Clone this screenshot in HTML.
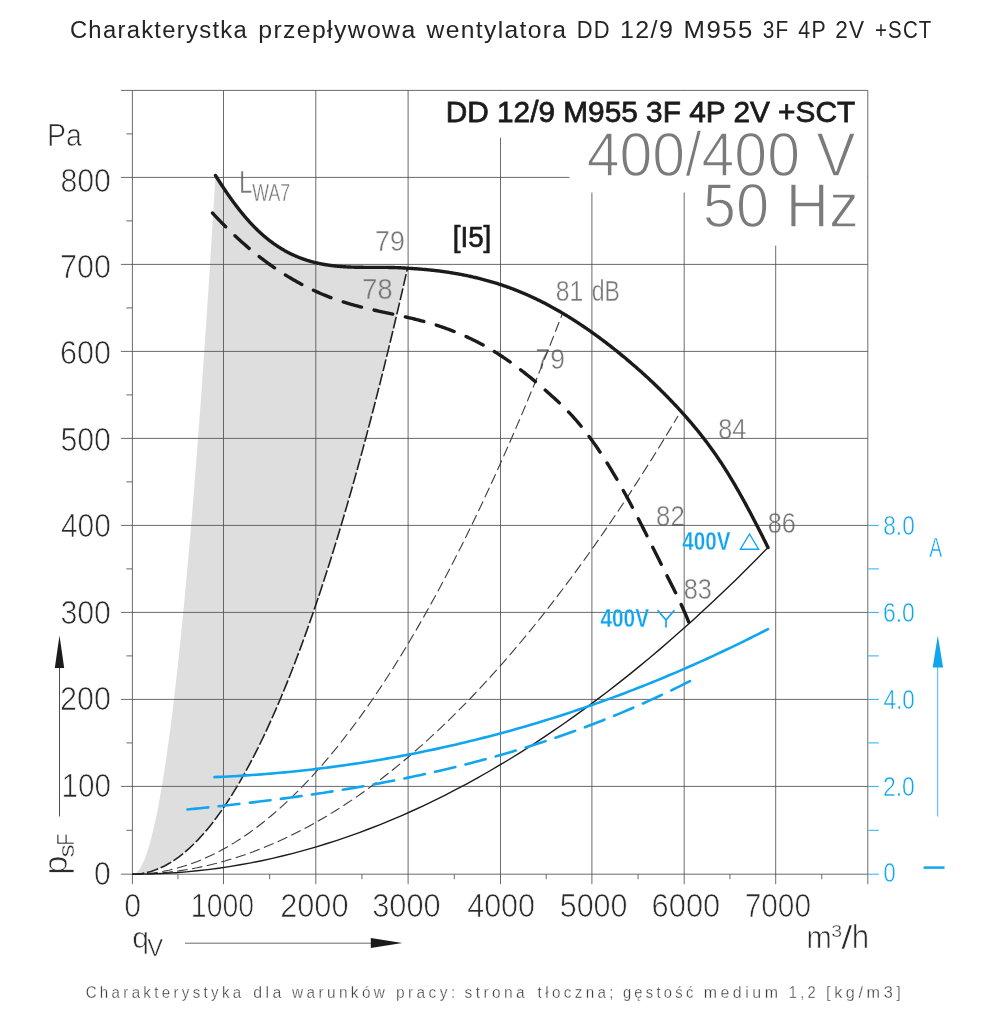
<!DOCTYPE html>
<html lang="pl"><head><meta charset="utf-8"><title>Charakterystyka wentylatora</title>
<style>html,body{margin:0;padding:0;background:#fff;overflow:hidden}svg{display:block;will-change:transform}text{font-family:"Liberation Sans",sans-serif}</style></head>
<body>
<svg width="1000" height="1028" viewBox="0 0 1000 1028">
<rect width="1000" height="1028" fill="#fff"/>
<path d="M132.4 874.2 L133.81 874 L135.22 873.4 L136.63 872.39 L138.03 870.99 L139.44 869.18 L140.85 866.97 L142.26 864.36 L143.67 861.35 L145.08 857.94 L146.48 854.13 L147.89 849.91 L149.3 845.3 L150.71 840.28 L152.12 834.86 L153.53 829.04 L154.94 822.82 L156.34 816.19 L157.75 809.17 L159.16 801.74 L160.57 793.91 L161.98 785.68 L163.39 777.05 L164.79 768.02 L166.2 758.59 L167.61 748.75 L169.02 738.51 L170.43 727.88 L171.84 716.84 L173.25 705.4 L174.65 693.55 L176.06 681.31 L177.47 668.66 L178.88 655.62 L180.29 642.17 L181.7 628.32 L183.11 614.07 L184.51 599.42 L185.92 584.36 L187.33 568.91 L188.74 553.05 L190.15 536.79 L191.56 520.13 L192.96 503.07 L194.37 485.61 L195.78 467.75 L197.19 449.48 L198.6 430.81 L200.01 411.75 L201.42 392.28 L202.82 372.4 L204.23 352.13 L205.64 331.46 L207.05 310.38 L208.46 288.91 L209.87 267.03 L211.27 244.75 L212.68 222.07 L214.09 198.98 L215.5 175.5 L215.5 175.48 L215.98 176.24 L216.46 177.01 L216.94 177.77 L217.42 178.53 L217.91 179.28 L218.39 180.04 L218.87 180.79 L219.35 181.53 L219.83 182.28 L220.31 183.02 L220.79 183.76 L221.27 184.49 L221.76 185.23 L222.24 185.96 L222.72 186.68 L223.2 187.41 L223.68 188.13 L224.16 188.85 L224.64 189.56 L225.12 190.27 L225.61 190.98 L226.09 191.69 L226.57 192.39 L227.05 193.09 L227.53 193.78 L228.01 194.48 L228.49 195.17 L228.97 195.85 L229.45 196.54 L229.94 197.22 L230.42 197.89 L230.9 198.57 L231.38 199.24 L231.86 199.91 L232.34 200.57 L232.82 201.23 L233.3 201.89 L233.79 202.54 L234.27 203.19 L234.75 203.83 L235.23 204.48 L235.71 205.12 L236.19 205.75 L236.67 206.39 L237.15 207.01 L237.64 207.64 L238.12 208.26 L238.6 208.88 L239.08 209.49 L239.56 210.1 L240.04 210.71 L240.52 211.31 L241 211.91 L241.48 212.51 L241.97 213.1 L242.45 213.69 L242.93 214.28 L243.41 214.86 L243.89 215.43 L244.37 216.01 L244.85 216.58 L245.33 217.14 L245.82 217.7 L246.3 218.26 L246.78 218.81 L247.26 219.36 L247.74 219.91 L248.22 220.45 L248.7 220.99 L249.18 221.52 L249.67 222.05 L250.15 222.58 L250.63 223.1 L251.11 223.62 L251.59 224.13 L252.07 224.64 L252.55 225.14 L253.03 225.64 L253.52 226.14 L254 226.63 L254.48 227.12 L254.96 227.61 L255.44 228.09 L255.92 228.57 L256.4 229.04 L256.88 229.51 L257.36 229.98 L257.85 230.44 L258.33 230.9 L258.81 231.35 L259.29 231.8 L259.77 232.25 L260.25 232.69 L260.73 233.13 L261.21 233.56 L261.7 234 L262.18 234.42 L262.66 234.85 L263.14 235.27 L263.62 235.68 L264.1 236.1 L264.58 236.51 L265.06 236.91 L265.55 237.32 L266.03 237.72 L266.51 238.11 L266.99 238.5 L267.47 238.89 L267.95 239.28 L268.43 239.66 L268.91 240.03 L269.39 240.41 L269.88 240.78 L270.36 241.15 L270.84 241.51 L271.32 241.87 L271.8 242.23 L272.28 242.58 L272.76 242.93 L273.24 243.28 L273.73 243.62 L274.21 243.96 L274.69 244.3 L275.17 244.64 L275.65 244.97 L276.13 245.29 L276.61 245.62 L277.09 245.94 L277.58 246.26 L278.06 246.57 L278.54 246.88 L279.02 247.19 L279.5 247.5 L279.98 247.8 L280.46 248.1 L280.94 248.4 L281.42 248.69 L281.91 248.98 L282.39 249.27 L282.87 249.55 L283.35 249.83 L283.83 250.11 L284.31 250.38 L284.79 250.66 L285.27 250.92 L285.76 251.19 L286.24 251.45 L286.72 251.71 L287.2 251.97 L287.68 252.23 L288.16 252.48 L288.64 252.73 L289.12 252.97 L289.61 253.22 L290.09 253.46 L290.57 253.7 L291.05 253.93 L291.53 254.16 L292.01 254.39 L292.49 254.62 L292.97 254.85 L293.45 255.07 L293.94 255.29 L294.42 255.5 L294.9 255.72 L295.38 255.93 L295.86 256.14 L296.34 256.34 L296.82 256.55 L297.3 256.75 L297.79 256.95 L298.27 257.14 L298.75 257.34 L299.23 257.53 L299.71 257.72 L300.19 257.9 L300.67 258.09 L301.15 258.27 L301.64 258.45 L302.12 258.62 L302.6 258.8 L303.08 258.97 L303.56 259.14 L304.04 259.31 L304.52 259.47 L305 259.64 L305.48 259.8 L305.97 259.96 L306.45 260.11 L306.93 260.27 L307.41 260.42 L307.89 260.57 L308.37 260.71 L308.85 260.86 L309.33 261 L309.82 261.14 L310.3 261.28 L310.78 261.42 L311.26 261.55 L311.74 261.69 L312.22 261.82 L312.7 261.95 L313.18 262.07 L313.67 262.2 L314.15 262.32 L314.63 262.44 L315.11 262.56 L315.59 262.68 L316.07 262.79 L316.55 262.9 L317.03 263.01 L317.52 263.12 L318 263.23 L318.48 263.34 L318.96 263.44 L319.44 263.54 L319.92 263.64 L320.4 263.74 L320.88 263.84 L321.36 263.93 L321.85 264.03 L322.33 264.12 L322.81 264.21 L323.29 264.29 L323.77 264.38 L324.25 264.47 L324.73 264.55 L325.21 264.63 L325.7 264.71 L326.18 264.79 L326.66 264.87 L327.14 264.94 L327.62 265.01 L328.1 265.09 L328.58 265.16 L329.06 265.23 L329.55 265.29 L330.03 265.36 L330.51 265.43 L330.99 265.49 L331.47 265.55 L331.95 265.61 L332.43 265.67 L332.91 265.73 L333.39 265.78 L333.88 265.84 L334.36 265.89 L334.84 265.95 L335.32 266 L335.8 266.05 L336.28 266.1 L336.76 266.14 L337.24 266.19 L337.73 266.24 L338.21 266.28 L338.69 266.32 L339.17 266.36 L339.65 266.4 L340.13 266.44 L340.61 266.48 L341.09 266.52 L341.58 266.56 L342.06 266.59 L342.54 266.62 L343.02 266.66 L343.5 266.69 L343.98 266.72 L344.46 266.75 L344.94 266.78 L345.42 266.81 L345.91 266.83 L346.39 266.86 L346.87 266.89 L347.35 266.91 L347.83 266.93 L348.31 266.96 L348.79 266.98 L349.27 267 L349.76 267.02 L350.24 267.04 L350.72 267.06 L351.2 267.08 L351.68 267.09 L352.16 267.11 L352.64 267.12 L353.12 267.14 L353.61 267.15 L354.09 267.17 L354.57 267.18 L355.05 267.19 L355.53 267.2 L356.01 267.22 L356.49 267.23 L356.97 267.24 L357.45 267.25 L357.94 267.26 L358.42 267.26 L358.9 267.27 L359.38 267.28 L359.86 267.29 L360.34 267.29 L360.82 267.3 L361.3 267.3 L361.79 267.31 L362.27 267.31 L362.75 267.32 L363.23 267.32 L363.71 267.33 L364.19 267.33 L364.67 267.33 L365.15 267.34 L365.64 267.34 L366.12 267.34 L366.6 267.34 L367.08 267.34 L367.56 267.34 L368.04 267.35 L368.52 267.35 L369 267.35 L369.48 267.35 L369.97 267.35 L370.45 267.35 L370.93 267.35 L371.41 267.35 L371.89 267.35 L372.37 267.35 L372.85 267.35 L373.33 267.35 L373.82 267.35 L374.3 267.35 L374.78 267.35 L375.26 267.35 L375.74 267.35 L376.22 267.35 L376.7 267.35 L377.18 267.35 L377.67 267.35 L378.15 267.35 L378.63 267.35 L379.11 267.35 L379.59 267.36 L380.07 267.36 L380.55 267.36 L381.03 267.36 L381.52 267.36 L382 267.36 L382.48 267.37 L382.96 267.37 L383.44 267.37 L383.92 267.38 L384.4 267.38 L384.88 267.38 L385.36 267.39 L385.85 267.39 L386.33 267.4 L386.81 267.4 L387.29 267.41 L387.77 267.42 L388.25 267.42 L388.73 267.43 L389.21 267.44 L389.7 267.45 L390.18 267.46 L390.66 267.46 L391.14 267.47 L391.62 267.49 L392.1 267.5 L392.58 267.51 L393.06 267.52 L393.55 267.53 L394.03 267.55 L394.51 267.56 L394.99 267.58 L395.47 267.59 L395.95 267.61 L396.43 267.62 L396.91 267.64 L397.39 267.66 L397.88 267.68 L398.36 267.7 L398.84 267.72 L399.32 267.74 L399.8 267.77 L400.28 267.79 L400.76 267.81 L401.24 267.84 L401.73 267.87 L402.21 267.89 L402.69 267.92 L403.17 267.95 L403.65 267.98 L404.13 268.01 L404.61 268.04 L405.09 268.07 L405.58 268.11 L406.06 268.14 L406.54 268.18 L407.02 268.22 L407.5 268.25 L407.5 268.25 L407.5 268.25 L402.84 288.62 L398.17 308.64 L393.51 328.31 L388.85 347.63 L384.19 366.6 L379.52 385.23 L374.86 403.51 L370.2 421.43 L365.54 439.02 L360.87 456.25 L356.21 473.13 L351.55 489.67 L346.88 505.86 L342.22 521.7 L337.56 537.19 L332.9 552.34 L328.23 567.13 L323.57 581.58 L318.91 595.68 L314.25 609.43 L309.58 622.84 L304.92 635.89 L300.26 648.6 L295.59 660.96 L290.93 672.97 L286.27 684.63 L281.61 695.95 L276.94 706.92 L272.28 717.53 L267.62 727.8 L262.96 737.73 L258.29 747.3 L253.63 756.53 L248.97 765.4 L244.31 773.93 L239.64 782.12 L234.98 789.95 L230.32 797.43 L225.65 804.57 L220.99 811.36 L216.33 817.8 L211.67 823.89 L207 829.64 L202.34 835.03 L197.68 840.08 L193.02 844.78 L188.35 849.13 L183.69 853.14 L179.03 856.79 L174.36 860.1 L169.7 863.06 L165.04 865.67 L160.38 867.93 L155.71 869.85 L151.05 871.41 L146.39 872.63 L141.73 873.5 L137.06 874.03 L132.4 874.2Z" fill="#dedede"/>
<g font-family="Liberation Sans, sans-serif">
<text transform="translate(375.07 251.18) scale(0.8934 1)" font-size="29.87" fill="#787878"  stroke="#fff" stroke-width="0.35" vector-effect="non-scaling-stroke" stroke-linejoin="round">79</text>
<text transform="translate(362.3 299.21) scale(0.9097 1)" font-size="29.87" fill="#787878"  stroke="#dedede" stroke-width="0.35" vector-effect="non-scaling-stroke" stroke-linejoin="round">78</text>
<text transform="translate(555.85 300.71) scale(0.8285 1)" font-size="29.87" fill="#787878"  stroke="#fff" stroke-width="0.35" vector-effect="non-scaling-stroke" stroke-linejoin="round">81</text>
<text transform="translate(591.71 300.71) scale(0.7701 1)" font-size="29.87" fill="#787878"  stroke="#fff" stroke-width="0.35" vector-effect="non-scaling-stroke" stroke-linejoin="round">dB</text>
<text transform="translate(535.59 369.08) scale(0.8852 1)" font-size="29.87" fill="#787878"  stroke="#fff" stroke-width="0.35" vector-effect="non-scaling-stroke" stroke-linejoin="round">79</text>
<text transform="translate(718.29 439.46) scale(0.8432 1)" font-size="29.87" fill="#787878"  stroke="#fff" stroke-width="0.35" vector-effect="non-scaling-stroke" stroke-linejoin="round">84</text>
<text transform="translate(656.12 526.41) scale(0.8607 1)" font-size="29.87" fill="#787878"  stroke="#fff" stroke-width="0.35" vector-effect="non-scaling-stroke" stroke-linejoin="round">82</text>
<text transform="translate(767.74 533.21) scale(0.8446 1)" font-size="29.87" fill="#787878"  stroke="#fff" stroke-width="0.35" vector-effect="non-scaling-stroke" stroke-linejoin="round">86</text>
<text transform="translate(683.63 599.21) scale(0.8478 1)" font-size="29.87" fill="#787878"  stroke="#fff" stroke-width="0.35" vector-effect="non-scaling-stroke" stroke-linejoin="round">83</text>
<text transform="translate(238.92 192.7) scale(0.7671 1)" font-size="31.36" fill="#787878"  stroke="#fff" stroke-width="0.4" vector-effect="non-scaling-stroke" stroke-linejoin="round">L</text>
<text transform="translate(252.35 200.65) scale(0.7470 1)" font-size="23.71" fill="#787878"  stroke="#fff" stroke-width="0.3" vector-effect="non-scaling-stroke" stroke-linejoin="round">WA7</text>
</g>
<g stroke="#505050" stroke-width="0.85" fill="none">
<line x1="223.5" y1="90.4" x2="223.5" y2="884.2"/>
<line x1="315.8" y1="90.4" x2="315.8" y2="884.2"/>
<line x1="408.1" y1="90.4" x2="408.1" y2="884.2"/>
<line x1="500.5" y1="90.4" x2="500.5" y2="884.2"/>
<line x1="591.9" y1="90.4" x2="591.9" y2="884.2"/>
<line x1="684.2" y1="90.4" x2="684.2" y2="884.2"/>
<line x1="775.7" y1="90.4" x2="775.7" y2="884.2"/>
<line x1="120.9" y1="786.4" x2="867.8" y2="786.4"/>
<line x1="120.9" y1="699.4" x2="867.8" y2="699.4"/>
<line x1="120.9" y1="612.4" x2="867.8" y2="612.4"/>
<line x1="120.9" y1="525.4" x2="867.8" y2="525.4"/>
<line x1="120.9" y1="438.4" x2="867.8" y2="438.4"/>
<line x1="120.9" y1="351.4" x2="867.8" y2="351.4"/>
<line x1="120.9" y1="264.4" x2="867.8" y2="264.4"/>
<line x1="120.9" y1="177.4" x2="867.8" y2="177.4"/>
</g>
<g fill="#fff">
<rect x="440" y="90.9" width="427.35" height="46.7"/>
<rect x="569.5" y="137" width="297.85" height="55.5"/>
<rect x="700" y="192" width="167.35" height="53.6"/>
</g>
<g stroke="#505050" stroke-width="0.85" fill="none">
<line x1="120.9" y1="90.4" x2="867.8" y2="90.4"/>
<line x1="120.9" y1="874.2" x2="867.8" y2="874.2"/>
<line x1="132.4" y1="90.4" x2="132.4" y2="884.2"/>
<line x1="867.8" y1="90.4" x2="867.8" y2="884.2"/>
<line x1="126.4" y1="830.3" x2="132.4" y2="830.3"/>
<line x1="126.4" y1="742.9" x2="132.4" y2="742.9"/>
<line x1="126.4" y1="655.9" x2="132.4" y2="655.9"/>
<line x1="126.4" y1="568.9" x2="132.4" y2="568.9"/>
<line x1="126.4" y1="481.9" x2="132.4" y2="481.9"/>
<line x1="126.4" y1="394.9" x2="132.4" y2="394.9"/>
<line x1="126.4" y1="307.9" x2="132.4" y2="307.9"/>
<line x1="126.4" y1="220.9" x2="132.4" y2="220.9"/>
<line x1="126.4" y1="133.9" x2="132.4" y2="133.9"/>
<line x1="177.95" y1="874.2" x2="177.95" y2="879.2"/>
<line x1="269.65" y1="874.2" x2="269.65" y2="879.2"/>
<line x1="361.95" y1="874.2" x2="361.95" y2="879.2"/>
<line x1="454.3" y1="874.2" x2="454.3" y2="879.2"/>
<line x1="546.2" y1="874.2" x2="546.2" y2="879.2"/>
<line x1="638.05" y1="874.2" x2="638.05" y2="879.2"/>
<line x1="729.95" y1="874.2" x2="729.95" y2="879.2"/>
<line x1="821.75" y1="874.2" x2="821.75" y2="879.2"/>
</g>
<g stroke="#11a5ef" stroke-width="0.9" fill="none">
<line x1="868.3" y1="874.2" x2="878.8" y2="874.2"/>
<line x1="868.3" y1="830.3" x2="878.8" y2="830.3"/>
<line x1="868.3" y1="786.4" x2="878.8" y2="786.4"/>
<line x1="868.3" y1="742.9" x2="878.8" y2="742.9"/>
<line x1="868.3" y1="699.4" x2="878.8" y2="699.4"/>
<line x1="868.3" y1="655.9" x2="878.8" y2="655.9"/>
<line x1="868.3" y1="612.4" x2="878.8" y2="612.4"/>
<line x1="868.3" y1="568.9" x2="878.8" y2="568.9"/>
<line x1="868.3" y1="525.4" x2="878.8" y2="525.4"/>
</g>
<path d="M132.4 874.2 L137.06 874.03 L141.73 873.5 L146.39 872.63 L151.05 871.41 L155.71 869.85 L160.38 867.93 L165.04 865.67 L169.7 863.06 L174.36 860.1 L179.03 856.79 L183.69 853.14 L188.35 849.13 L193.02 844.78 L197.68 840.08 L202.34 835.03 L207 829.64 L211.67 823.89 L216.33 817.8 L220.99 811.36 L225.65 804.57 L230.32 797.43 L234.98 789.95 L239.64 782.12 L244.31 773.93 L248.97 765.4 L253.63 756.53 L258.29 747.3 L262.96 737.73 L267.62 727.8 L272.28 717.53 L276.94 706.92 L281.61 695.95 L286.27 684.63 L290.93 672.97 L295.59 660.96 L300.26 648.6 L304.92 635.89 L309.58 622.84 L314.25 609.43 L318.91 595.68 L323.57 581.58 L328.23 567.13 L332.9 552.34 L337.56 537.19 L342.22 521.7 L346.88 505.86 L351.55 489.67 L356.21 473.13 L360.87 456.25 L365.54 439.02 L370.2 421.43 L374.86 403.51 L379.52 385.23 L384.19 366.6 L388.85 347.63 L393.51 328.31 L398.17 308.64 L402.84 288.62 L407.5 268.25" fill="none" stroke="#222" stroke-width="1.6" stroke-dasharray="12 2.6"/>
<path d="M132.4 874.2 L139.69 874.04 L146.98 873.56 L154.27 872.75 L161.56 871.62 L168.85 870.17 L176.14 868.4 L183.43 866.3 L190.72 863.89 L198.01 861.15 L205.3 858.09 L212.59 854.7 L219.88 850.99 L227.17 846.97 L234.46 842.62 L241.75 837.94 L249.04 832.95 L256.33 827.63 L263.62 821.99 L270.91 816.03 L278.2 809.74 L285.49 803.13 L292.78 796.21 L300.07 788.95 L307.36 781.38 L314.65 773.48 L321.94 765.27 L329.23 756.72 L336.52 747.86 L343.81 738.68 L351.09 729.17 L358.38 719.34 L365.67 709.19 L372.96 698.71 L380.25 687.91 L387.54 676.8 L394.83 665.35 L402.12 653.59 L409.41 641.5 L416.7 629.1 L423.99 616.37 L431.28 603.31 L438.57 589.94 L445.86 576.24 L453.15 562.22 L460.44 547.88 L467.73 533.21 L475.02 518.23 L482.31 502.92 L489.6 487.29 L496.89 471.33 L504.18 455.06 L511.47 438.46 L518.76 421.54 L526.05 404.3 L533.34 386.73 L540.63 368.85 L547.92 350.64 L555.21 332.1 L562.5 313.25" fill="none" stroke="#3c3c3c" stroke-width="1.1" stroke-dasharray="10.5 4.5"/>
<path d="M132.4 874.2 L141.65 874.07 L150.89 873.67 L160.14 873.02 L169.39 872.09 L178.64 870.91 L187.88 869.46 L197.13 867.75 L206.38 865.78 L215.63 863.54 L224.87 861.04 L234.12 858.27 L243.37 855.25 L252.62 851.95 L261.86 848.4 L271.11 844.58 L280.36 840.5 L289.61 836.16 L298.85 831.55 L308.1 826.68 L317.35 821.55 L326.6 816.15 L335.84 810.49 L345.09 804.57 L354.34 798.38 L363.59 791.93 L372.83 785.22 L382.08 778.24 L391.33 771 L400.58 763.5 L409.82 755.73 L419.07 747.7 L428.32 739.41 L437.57 730.86 L446.81 722.04 L456.06 712.95 L465.31 703.61 L474.56 694 L483.8 684.13 L493.05 673.99 L502.3 663.59 L511.55 652.93 L520.79 642.01 L530.04 630.82 L539.29 619.37 L548.54 607.65 L557.78 595.67 L567.03 583.43 L576.28 570.93 L585.53 558.16 L594.77 545.13 L604.02 531.83 L613.27 518.28 L622.52 504.45 L631.76 490.37 L641.01 476.02 L650.26 461.41 L659.51 446.54 L668.75 431.4 L678 416" fill="none" stroke="#3c3c3c" stroke-width="1.1" stroke-dasharray="10.5 4.5"/>
<path d="M132.4 874.2 L143.17 874.11 L153.95 873.82 L164.72 873.36 L175.49 872.7 L186.26 871.85 L197.04 870.82 L207.81 869.6 L218.58 868.19 L229.36 866.6 L240.13 864.81 L250.9 862.84 L261.67 860.69 L272.45 858.34 L283.22 855.8 L293.99 853.08 L304.77 850.17 L315.54 847.08 L326.31 843.79 L337.08 840.32 L347.86 836.66 L358.63 832.81 L369.4 828.78 L380.18 824.55 L390.95 820.14 L401.72 815.54 L412.49 810.76 L423.27 805.78 L434.04 800.62 L444.81 795.27 L455.59 789.73 L466.36 784.01 L477.13 778.1 L487.91 771.99 L498.68 765.71 L509.45 759.23 L520.22 752.57 L531 745.72 L541.77 738.68 L552.54 731.45 L563.32 724.04 L574.09 716.43 L584.86 708.64 L595.63 700.67 L606.41 692.5 L617.18 684.15 L627.95 675.61 L638.73 666.88 L649.5 657.96 L660.27 648.86 L671.04 639.57 L681.82 630.09 L692.59 620.42 L703.36 610.57 L714.14 600.53 L724.91 590.3 L735.68 579.88 L746.45 569.27 L757.23 558.48 L768 547.5" fill="none" stroke="#1c1a1b" stroke-width="1.4"/>
<path d="M214.5 777.13 L219.15 776.92 L223.8 776.7 L228.45 776.47 L233.11 776.22 L237.76 775.95 L242.41 775.66 L247.06 775.36 L251.71 775.05 L256.36 774.72 L261.01 774.37 L265.66 774 L270.32 773.62 L274.97 773.22 L279.62 772.81 L284.27 772.38 L288.92 771.93 L293.57 771.46 L298.22 770.98 L302.87 770.49 L307.53 769.97 L312.18 769.44 L316.83 768.89 L321.48 768.33 L326.13 767.75 L330.78 767.15 L335.43 766.53 L340.08 765.9 L344.74 765.25 L349.39 764.58 L354.04 763.9 L358.69 763.2 L363.34 762.48 L367.99 761.75 L372.64 760.99 L377.29 760.22 L381.95 759.43 L386.6 758.63 L391.25 757.81 L395.9 756.97 L400.55 756.11 L405.2 755.23 L409.85 754.34 L414.5 753.43 L419.16 752.5 L423.81 751.56 L428.46 750.59 L433.11 749.61 L437.76 748.61 L442.41 747.59 L447.06 746.56 L451.71 745.5 L456.37 744.43 L461.02 743.34 L465.67 742.23 L470.32 741.11 L474.97 739.96 L479.62 738.8 L484.27 737.62 L488.92 736.42 L493.58 735.2 L498.23 733.96 L502.88 732.71 L507.53 731.43 L512.18 730.14 L516.83 728.83 L521.48 727.5 L526.13 726.15 L530.79 724.78 L535.44 723.4 L540.09 721.99 L544.74 720.57 L549.39 719.12 L554.04 717.66 L558.69 716.18 L563.34 714.68 L568 713.16 L572.65 711.62 L577.3 710.06 L581.95 708.49 L586.6 706.89 L591.25 705.27 L595.9 703.64 L600.55 701.98 L605.21 700.31 L609.86 698.62 L614.51 696.9 L619.16 695.17 L623.81 693.42 L628.46 691.65 L633.11 689.85 L637.76 688.04 L642.42 686.21 L647.07 684.36 L651.72 682.49 L656.37 680.6 L661.02 678.69 L665.67 676.75 L670.32 674.8 L674.97 672.83 L679.63 670.84 L684.28 668.83 L688.93 666.8 L693.58 664.74 L698.23 662.67 L702.88 660.58 L707.53 658.46 L712.18 656.33 L716.84 654.17 L721.49 652 L726.14 649.8 L730.79 647.59 L735.44 645.35 L740.09 643.09 L744.74 640.81 L749.39 638.51 L754.05 636.19 L758.7 633.85 L763.35 631.49 L768 629.1" fill="none" stroke="#11a5ef" stroke-width="2.6" stroke-linecap="round"/>
<path d="M187.5 809.46 L191.72 809.04 L195.95 808.61 L200.17 808.18 L204.39 807.75 L208.61 807.31 L212.84 806.86 L217.06 806.41 L221.28 805.95 L225.5 805.49 L229.73 805.02 L233.95 804.55 L238.17 804.07 L242.39 803.58 L246.62 803.09 L250.84 802.59 L255.06 802.09 L259.29 801.57 L263.51 801.05 L267.73 800.53 L271.95 799.99 L276.18 799.45 L280.4 798.9 L284.62 798.34 L288.84 797.77 L293.07 797.2 L297.29 796.61 L301.51 796.02 L305.74 795.42 L309.96 794.81 L314.18 794.19 L318.4 793.56 L322.63 792.92 L326.85 792.27 L331.07 791.62 L335.29 790.95 L339.52 790.27 L343.74 789.58 L347.96 788.88 L352.18 788.17 L356.41 787.45 L360.63 786.72 L364.85 785.97 L369.08 785.22 L373.3 784.45 L377.52 783.67 L381.74 782.88 L385.97 782.08 L390.19 781.26 L394.41 780.43 L398.63 779.59 L402.86 778.74 L407.08 777.87 L411.3 776.99 L415.53 776.1 L419.75 775.19 L423.97 774.27 L428.19 773.34 L432.42 772.39 L436.64 771.43 L440.86 770.45 L445.08 769.46 L449.31 768.45 L453.53 767.43 L457.75 766.39 L461.97 765.34 L466.2 764.27 L470.42 763.19 L474.64 762.09 L478.87 760.98 L483.09 759.85 L487.31 758.7 L491.53 757.54 L495.76 756.36 L499.98 755.16 L504.2 753.95 L508.42 752.71 L512.65 751.47 L516.87 750.2 L521.09 748.92 L525.32 747.61 L529.54 746.29 L533.76 744.96 L537.98 743.6 L542.21 742.23 L546.43 740.83 L550.65 739.42 L554.87 737.99 L559.1 736.54 L563.32 735.07 L567.54 733.58 L571.76 732.07 L575.99 730.54 L580.21 728.99 L584.43 727.42 L588.66 725.83 L592.88 724.22 L597.1 722.58 L601.32 720.93 L605.55 719.26 L609.77 717.56 L613.99 715.85 L618.21 714.11 L622.44 712.35 L626.66 710.57 L630.88 708.76 L635.11 706.93 L639.33 705.08 L643.55 703.21 L647.77 701.32 L652 699.4 L656.22 697.46 L660.44 695.49 L664.66 693.51 L668.89 691.49 L673.11 689.46 L677.33 687.4 L681.55 685.31 L685.78 683.21 L690 681.07" fill="none" stroke="#11a5ef" stroke-width="2.6" stroke-linecap="round" stroke-dasharray="20.843 10.471"/>
<path d="M215.5 175.48 L215.98 176.24 L216.46 177.01 L216.94 177.77 L217.42 178.53 L217.91 179.28 L218.39 180.04 L218.87 180.79 L219.35 181.53 L219.83 182.28 L220.31 183.02 L220.79 183.76 L221.27 184.49 L221.76 185.23 L222.24 185.96 L222.72 186.68 L223.2 187.41 L223.68 188.13 L224.16 188.85 L224.64 189.56 L225.12 190.27 L225.61 190.98 L226.09 191.69 L226.57 192.39 L227.05 193.09 L227.53 193.78 L228.01 194.48 L228.49 195.17 L228.97 195.85 L229.45 196.54 L229.94 197.22 L230.42 197.89 L230.9 198.57 L231.38 199.24 L231.86 199.91 L232.34 200.57 L232.82 201.23 L233.3 201.89 L233.79 202.54 L234.27 203.19 L234.75 203.83 L235.23 204.48 L235.71 205.12 L236.19 205.75 L236.67 206.39 L237.15 207.01 L237.64 207.64 L238.12 208.26 L238.6 208.88 L239.08 209.49 L239.56 210.1 L240.04 210.71 L240.52 211.31 L241 211.91 L241.48 212.51 L241.97 213.1 L242.45 213.69 L242.93 214.28 L243.41 214.86 L243.89 215.43 L244.37 216.01 L244.85 216.58 L245.33 217.14 L245.82 217.7 L246.3 218.26 L246.78 218.81 L247.26 219.36 L247.74 219.91 L248.22 220.45 L248.7 220.99 L249.18 221.52 L249.67 222.05 L250.15 222.58 L250.63 223.1 L251.11 223.62 L251.59 224.13 L252.07 224.64 L252.55 225.14 L253.03 225.64 L253.52 226.14 L254 226.63 L254.48 227.12 L254.96 227.61 L255.44 228.09 L255.92 228.57 L256.4 229.04 L256.88 229.51 L257.36 229.98 L257.85 230.44 L258.33 230.9 L258.81 231.35 L259.29 231.8 L259.77 232.25 L260.25 232.69 L260.73 233.13 L261.21 233.56 L261.7 234 L262.18 234.42 L262.66 234.85 L263.14 235.27 L263.62 235.68 L264.1 236.1 L264.58 236.51 L265.06 236.91 L265.55 237.32 L266.03 237.72 L266.51 238.11 L266.99 238.5 L267.47 238.89 L267.95 239.28 L268.43 239.66 L268.91 240.03 L269.39 240.41 L269.88 240.78 L270.36 241.15 L270.84 241.51 L271.32 241.87 L271.8 242.23 L272.28 242.58 L272.76 242.93 L273.24 243.28 L273.73 243.62 L274.21 243.96 L274.69 244.3 L275.17 244.64 L275.65 244.97 L276.13 245.29 L276.61 245.62 L277.09 245.94 L277.58 246.26 L278.06 246.57 L278.54 246.88 L279.02 247.19 L279.5 247.5 L279.98 247.8 L280.46 248.1 L280.94 248.4 L281.42 248.69 L281.91 248.98 L282.39 249.27 L282.87 249.55 L283.35 249.83 L283.83 250.11 L284.31 250.38 L284.79 250.66 L285.27 250.92 L285.76 251.19 L286.24 251.45 L286.72 251.71 L287.2 251.97 L287.68 252.23 L288.16 252.48 L288.64 252.73 L289.12 252.97 L289.61 253.22 L290.09 253.46 L290.57 253.7 L291.05 253.93 L291.53 254.16 L292.01 254.39 L292.49 254.62 L292.97 254.85 L293.45 255.07 L293.94 255.29 L294.42 255.5 L294.9 255.72 L295.38 255.93 L295.86 256.14 L296.34 256.34 L296.82 256.55 L297.3 256.75 L297.79 256.95 L298.27 257.14 L298.75 257.34 L299.23 257.53 L299.71 257.72 L300.19 257.9 L300.67 258.09 L301.15 258.27 L301.64 258.45 L302.12 258.62 L302.6 258.8 L303.08 258.97 L303.56 259.14 L304.04 259.31 L304.52 259.47 L305 259.64 L305.48 259.8 L305.97 259.96 L306.45 260.11 L306.93 260.27 L307.41 260.42 L307.89 260.57 L308.37 260.71 L308.85 260.86 L309.33 261 L309.82 261.14 L310.3 261.28 L310.78 261.42 L311.26 261.55 L311.74 261.69 L312.22 261.82 L312.7 261.95 L313.18 262.07 L313.67 262.2 L314.15 262.32 L314.63 262.44 L315.11 262.56 L315.59 262.68 L316.07 262.79 L316.55 262.9 L317.03 263.01 L317.52 263.12 L318 263.23 L318.48 263.34 L318.96 263.44 L319.44 263.54 L319.92 263.64 L320.4 263.74 L320.88 263.84 L321.36 263.93 L321.85 264.03 L322.33 264.12 L322.81 264.21 L323.29 264.29 L323.77 264.38 L324.25 264.47 L324.73 264.55 L325.21 264.63 L325.7 264.71 L326.18 264.79 L326.66 264.87 L327.14 264.94 L327.62 265.01 L328.1 265.09 L328.58 265.16 L329.06 265.23 L329.55 265.29 L330.03 265.36 L330.51 265.43 L330.99 265.49 L331.47 265.55 L331.95 265.61 L332.43 265.67 L332.91 265.73 L333.39 265.78 L333.88 265.84 L334.36 265.89 L334.84 265.95 L335.32 266 L335.8 266.05 L336.28 266.1 L336.76 266.14 L337.24 266.19 L337.73 266.24 L338.21 266.28 L338.69 266.32 L339.17 266.36 L339.65 266.4 L340.13 266.44 L340.61 266.48 L341.09 266.52 L341.58 266.56 L342.06 266.59 L342.54 266.62 L343.02 266.66 L343.5 266.69 L343.98 266.72 L344.46 266.75 L344.94 266.78 L345.42 266.81 L345.91 266.83 L346.39 266.86 L346.87 266.89 L347.35 266.91 L347.83 266.93 L348.31 266.96 L348.79 266.98 L349.27 267 L349.76 267.02 L350.24 267.04 L350.72 267.06 L351.2 267.08 L351.68 267.09 L352.16 267.11 L352.64 267.12 L353.12 267.14 L353.61 267.15 L354.09 267.17 L354.57 267.18 L355.05 267.19 L355.53 267.2 L356.01 267.22 L356.49 267.23 L356.97 267.24 L357.45 267.25 L357.94 267.26 L358.42 267.26 L358.9 267.27 L359.38 267.28 L359.86 267.29 L360.34 267.29 L360.82 267.3 L361.3 267.3 L361.79 267.31 L362.27 267.31 L362.75 267.32 L363.23 267.32 L363.71 267.33 L364.19 267.33 L364.67 267.33 L365.15 267.34 L365.64 267.34 L366.12 267.34 L366.6 267.34 L367.08 267.34 L367.56 267.34 L368.04 267.35 L368.52 267.35 L369 267.35 L369.48 267.35 L369.97 267.35 L370.45 267.35 L370.93 267.35 L371.41 267.35 L371.89 267.35 L372.37 267.35 L372.85 267.35 L373.33 267.35 L373.82 267.35 L374.3 267.35 L374.78 267.35 L375.26 267.35 L375.74 267.35 L376.22 267.35 L376.7 267.35 L377.18 267.35 L377.67 267.35 L378.15 267.35 L378.63 267.35 L379.11 267.35 L379.59 267.36 L380.07 267.36 L380.55 267.36 L381.03 267.36 L381.52 267.36 L382 267.36 L382.48 267.37 L382.96 267.37 L383.44 267.37 L383.92 267.38 L384.4 267.38 L384.88 267.38 L385.36 267.39 L385.85 267.39 L386.33 267.4 L386.81 267.4 L387.29 267.41 L387.77 267.42 L388.25 267.42 L388.73 267.43 L389.21 267.44 L389.7 267.45 L390.18 267.46 L390.66 267.46 L391.14 267.47 L391.62 267.49 L392.1 267.5 L392.58 267.51 L393.06 267.52 L393.55 267.53 L394.03 267.55 L394.51 267.56 L394.99 267.58 L395.47 267.59 L395.95 267.61 L396.43 267.62 L396.91 267.64 L397.39 267.66 L397.88 267.68 L398.36 267.7 L398.84 267.72 L399.32 267.74 L399.8 267.77 L400.28 267.79 L400.76 267.81 L401.24 267.84 L401.73 267.87 L402.21 267.89 L402.69 267.92 L403.17 267.95 L403.65 267.98 L404.13 268.01 L404.61 268.04 L405.09 268.07 L405.58 268.11 L406.06 268.14 L406.54 268.18 L407.02 268.22 L407.5 268.25 L408.4 268.29 L409.31 268.35 L410.21 268.4 L411.11 268.45 L412.02 268.51 L412.92 268.57 L413.82 268.63 L414.73 268.69 L415.63 268.75 L416.54 268.81 L417.44 268.88 L418.34 268.95 L419.25 269.02 L420.15 269.09 L421.05 269.16 L421.96 269.24 L422.86 269.32 L423.76 269.39 L424.67 269.47 L425.57 269.56 L426.47 269.64 L427.38 269.73 L428.28 269.82 L429.18 269.91 L430.09 270 L430.99 270.1 L431.89 270.19 L432.8 270.29 L433.7 270.39 L434.61 270.49 L435.51 270.6 L436.41 270.71 L437.32 270.81 L438.22 270.93 L439.12 271.04 L440.03 271.15 L440.93 271.27 L441.83 271.39 L442.74 271.51 L443.64 271.64 L444.54 271.76 L445.45 271.89 L446.35 272.02 L447.25 272.16 L448.16 272.29 L449.06 272.43 L449.96 272.57 L450.87 272.71 L451.77 272.86 L452.68 273.01 L453.58 273.16 L454.48 273.31 L455.39 273.46 L456.29 273.62 L457.19 273.78 L458.1 273.94 L459 274.1 L459.9 274.27 L460.81 274.44 L461.71 274.61 L462.61 274.79 L463.52 274.96 L464.42 275.14 L465.32 275.33 L466.23 275.51 L467.13 275.7 L468.04 275.89 L468.94 276.08 L469.84 276.28 L470.75 276.47 L471.65 276.67 L472.55 276.88 L473.46 277.08 L474.36 277.29 L475.26 277.51 L476.17 277.72 L477.07 277.94 L477.97 278.16 L478.88 278.38 L479.78 278.61 L480.68 278.83 L481.59 279.07 L482.49 279.3 L483.39 279.54 L484.3 279.78 L485.2 280.02 L486.11 280.27 L487.01 280.52 L487.91 280.77 L488.82 281.02 L489.72 281.28 L490.62 281.54 L491.53 281.81 L492.43 282.07 L493.33 282.35 L494.24 282.62 L495.14 282.9 L496.04 283.18 L496.95 283.46 L497.85 283.74 L498.75 284.03 L499.66 284.33 L500.56 284.62 L501.46 284.92 L502.37 285.22 L503.27 285.53 L504.18 285.84 L505.08 286.15 L505.98 286.46 L506.89 286.78 L507.79 287.1 L508.69 287.43 L509.6 287.76 L510.5 288.09 L511.4 288.42 L512.31 288.76 L513.21 289.11 L514.11 289.45 L515.02 289.8 L515.92 290.15 L516.82 290.51 L517.73 290.87 L518.63 291.23 L519.54 291.6 L520.44 291.97 L521.34 292.34 L522.25 292.72 L523.15 293.1 L524.05 293.48 L524.96 293.87 L525.86 294.26 L526.76 294.66 L527.67 295.06 L528.57 295.46 L529.47 295.87 L530.38 296.28 L531.28 296.69 L532.18 297.11 L533.09 297.53 L533.99 297.95 L534.89 298.38 L535.8 298.81 L536.7 299.25 L537.61 299.69 L538.51 300.13 L539.41 300.57 L540.32 301.02 L541.22 301.48 L542.12 301.93 L543.03 302.39 L543.93 302.86 L544.83 303.32 L545.74 303.79 L546.64 304.27 L547.54 304.74 L548.45 305.22 L549.35 305.71 L550.25 306.2 L551.16 306.69 L552.06 307.18 L552.96 307.68 L553.87 308.18 L554.77 308.69 L555.68 309.2 L556.58 309.71 L557.48 310.22 L558.39 310.74 L559.29 311.26 L560.19 311.79 L561.1 312.32 L562 312.85 L562.9 313.38 L563.81 313.92 L564.71 314.46 L565.61 315.01 L566.52 315.56 L567.42 316.11 L568.32 316.67 L569.23 317.23 L570.13 317.79 L571.04 318.35 L571.94 318.92 L572.84 319.49 L573.75 320.07 L574.65 320.65 L575.55 321.23 L576.46 321.81 L577.36 322.4 L578.26 322.99 L579.17 323.59 L580.07 324.19 L580.97 324.79 L581.88 325.39 L582.78 326 L583.68 326.61 L584.59 327.23 L585.49 327.84 L586.39 328.46 L587.3 329.09 L588.2 329.71 L589.11 330.35 L590.01 330.98 L590.91 331.61 L591.82 332.25 L592.72 332.9 L593.62 333.54 L594.53 334.19 L595.43 334.84 L596.33 335.5 L597.24 336.16 L598.14 336.82 L599.04 337.48 L599.95 338.15 L600.85 338.82 L601.75 339.49 L602.66 340.17 L603.56 340.85 L604.46 341.53 L605.37 342.22 L606.27 342.91 L607.18 343.6 L608.08 344.3 L608.98 344.99 L609.89 345.69 L610.79 346.4 L611.69 347.11 L612.6 347.82 L613.5 348.53 L614.4 349.24 L615.31 349.96 L616.21 350.69 L617.11 351.41 L618.02 352.14 L618.92 352.87 L619.82 353.6 L620.73 354.34 L621.63 355.08 L622.54 355.82 L623.44 356.57 L624.34 357.31 L625.25 358.06 L626.15 358.82 L627.05 359.58 L627.96 360.34 L628.86 361.1 L629.76 361.86 L630.67 362.63 L631.57 363.41 L632.47 364.18 L633.38 364.96 L634.28 365.74 L635.18 366.53 L636.09 367.31 L636.99 368.1 L637.89 368.9 L638.8 369.7 L639.7 370.5 L640.61 371.3 L641.51 372.11 L642.41 372.92 L643.32 373.74 L644.22 374.56 L645.12 375.38 L646.03 376.21 L646.93 377.04 L647.83 377.87 L648.74 378.71 L649.64 379.55 L650.54 380.39 L651.45 381.24 L652.35 382.1 L653.25 382.95 L654.16 383.81 L655.06 384.68 L655.96 385.55 L656.87 386.42 L657.77 387.3 L658.68 388.18 L659.58 389.06 L660.48 389.95 L661.39 390.85 L662.29 391.74 L663.19 392.64 L664.1 393.55 L665 394.46 L665.9 395.38 L666.81 396.3 L667.71 397.22 L668.61 398.15 L669.52 399.08 L670.42 400.02 L671.32 400.96 L672.23 401.91 L673.13 402.86 L674.04 403.82 L674.94 404.78 L675.84 405.74 L676.75 406.71 L677.65 407.69 L678.55 408.67 L679.46 409.65 L680.36 410.64 L681.26 411.64 L682.17 412.64 L683.07 413.64 L683.97 414.65 L684.88 415.67 L685.78 416.69 L686.68 417.72 L687.59 418.75 L688.49 419.79 L689.39 420.83 L690.3 421.88 L691.2 422.94 L692.11 424 L693.01 425.08 L693.91 426.15 L694.82 427.24 L695.72 428.33 L696.62 429.43 L697.53 430.54 L698.43 431.65 L699.33 432.78 L700.24 433.91 L701.14 435.05 L702.04 436.19 L702.95 437.35 L703.85 438.52 L704.75 439.69 L705.66 440.88 L706.56 442.07 L707.46 443.27 L708.37 444.48 L709.27 445.7 L710.18 446.94 L711.08 448.18 L711.98 449.43 L712.89 450.69 L713.79 451.97 L714.69 453.25 L715.6 454.54 L716.5 455.85 L717.4 457.17 L718.31 458.5 L719.21 459.84 L720.11 461.19 L721.02 462.55 L721.92 463.93 L722.82 465.32 L723.73 466.72 L724.63 468.13 L725.54 469.56 L726.44 470.99 L727.34 472.44 L728.25 473.9 L729.15 475.37 L730.05 476.86 L730.96 478.35 L731.86 479.86 L732.76 481.37 L733.67 482.9 L734.57 484.44 L735.47 485.98 L736.38 487.54 L737.28 489.11 L738.18 490.69 L739.09 492.28 L739.99 493.88 L740.89 495.49 L741.8 497.1 L742.7 498.73 L743.61 500.37 L744.51 502.01 L745.41 503.67 L746.32 505.33 L747.22 507 L748.12 508.68 L749.03 510.37 L749.93 512.07 L750.83 513.77 L751.74 515.49 L752.64 517.21 L753.54 518.93 L754.45 520.67 L755.35 522.41 L756.25 524.16 L757.16 525.92 L758.06 527.69 L758.96 529.46 L759.87 531.24 L760.77 533.02 L761.68 534.81 L762.58 536.61 L763.48 538.41 L764.39 540.22 L765.29 542.04 L766.19 543.86 L767.1 545.69 L768 547.52" fill="none" stroke="#1c1a1b" stroke-width="3.4" stroke-linejoin="round" stroke-linecap="round"/>
<path d="M212.5 212.99 L213.69 214.28 L214.89 215.57 L216.08 216.85 L217.27 218.12 L218.47 219.37 L219.66 220.62 L220.86 221.86 L222.05 223.09 L223.24 224.3 L224.44 225.51 L225.63 226.71 L226.82 227.9 L228.02 229.08 L229.21 230.25 L230.4 231.41 L231.6 232.56 L232.79 233.7 L233.98 234.83 L235.18 235.95 L236.37 237.07 L237.57 238.17 L238.76 239.26 L239.95 240.35 L241.15 241.42 L242.34 242.49 L243.53 243.54 L244.73 244.59 L245.92 245.63 L247.11 246.66 L248.31 247.68 L249.5 248.69 L250.7 249.69 L251.89 250.68 L253.08 251.66 L254.28 252.64 L255.47 253.6 L256.66 254.56 L257.86 255.51 L259.05 256.45 L260.24 257.38 L261.44 258.3 L262.63 259.21 L263.83 260.11 L265.02 261.01 L266.21 261.89 L267.41 262.77 L268.6 263.64 L269.79 264.5 L270.99 265.35 L272.18 266.19 L273.37 267.02 L274.57 267.85 L275.76 268.67 L276.95 269.47 L278.15 270.27 L279.34 271.06 L280.54 271.85 L281.73 272.62 L282.92 273.39 L284.12 274.15 L285.31 274.9 L286.5 275.64 L287.7 276.37 L288.89 277.1 L290.08 277.81 L291.28 278.52 L292.47 279.22 L293.67 279.92 L294.86 280.6 L296.05 281.28 L297.25 281.95 L298.44 282.61 L299.63 283.26 L300.83 283.91 L302.02 284.54 L303.21 285.17 L304.41 285.79 L305.6 286.41 L306.8 287.01 L307.99 287.61 L309.18 288.2 L310.38 288.78 L311.57 289.36 L312.76 289.93 L313.96 290.49 L315.15 291.04 L316.34 291.59 L317.54 292.12 L318.73 292.65 L319.92 293.18 L321.12 293.69 L322.31 294.2 L323.51 294.7 L324.7 295.19 L325.89 295.68 L327.09 296.16 L328.28 296.63 L329.47 297.09 L330.67 297.55 L331.86 298 L333.05 298.44 L334.25 298.88 L335.44 299.31 L336.64 299.73 L337.83 300.14 L339.02 300.55 L340.22 300.95 L341.41 301.34 L342.6 301.73 L343.8 302.11 L344.99 302.48 L346.18 302.85 L347.38 303.21 L348.57 303.57 L349.77 303.92 L350.96 304.26 L352.15 304.6 L353.35 304.94 L354.54 305.27 L355.73 305.59 L356.93 305.91 L358.12 306.23 L359.31 306.54 L360.51 306.84 L361.7 307.14 L362.89 307.44 L364.09 307.74 L365.28 308.03 L366.48 308.32 L367.67 308.6 L368.86 308.88 L370.06 309.16 L371.25 309.44 L372.44 309.71 L373.64 309.98 L374.83 310.25 L376.02 310.52 L377.22 310.78 L378.41 311.04 L379.61 311.3 L380.8 311.56 L381.99 311.82 L383.19 312.08 L384.38 312.34 L385.57 312.6 L386.77 312.85 L387.96 313.11 L389.15 313.36 L390.35 313.62 L391.54 313.87 L392.73 314.13 L393.93 314.38 L395.12 314.64 L396.32 314.9 L397.51 315.16 L398.7 315.42 L399.9 315.68 L401.09 315.94 L402.28 316.21 L403.48 316.47 L404.67 316.74 L405.86 317.01 L407.06 317.28 L408.25 317.56 L409.45 317.84 L410.64 318.12 L411.83 318.4 L413.03 318.69 L414.22 318.98 L415.41 319.27 L416.61 319.57 L417.8 319.87 L418.99 320.17 L420.19 320.48 L421.38 320.79 L422.58 321.11 L423.77 321.43 L424.96 321.76 L426.16 322.09 L427.35 322.43 L428.54 322.77 L429.74 323.12 L430.93 323.47 L432.12 323.83 L433.32 324.2 L434.51 324.57 L435.7 324.94 L436.9 325.32 L438.09 325.71 L439.29 326.1 L440.48 326.5 L441.67 326.9 L442.87 327.31 L444.06 327.72 L445.25 328.14 L446.45 328.57 L447.64 329.01 L448.83 329.44 L450.03 329.89 L451.22 330.34 L452.42 330.8 L453.61 331.27 L454.8 331.74 L456 332.22 L457.19 332.7 L458.38 333.2 L459.58 333.7 L460.77 334.2 L461.96 334.71 L463.16 335.23 L464.35 335.76 L465.55 336.3 L466.74 336.84 L467.93 337.39 L469.13 337.94 L470.32 338.51 L471.51 339.08 L472.71 339.66 L473.9 340.24 L475.09 340.84 L476.29 341.44 L477.48 342.05 L478.67 342.67 L479.87 343.29 L481.06 343.93 L482.26 344.57 L483.45 345.22 L484.64 345.88 L485.84 346.54 L487.03 347.22 L488.22 347.9 L489.42 348.59 L490.61 349.29 L491.8 350 L493 350.72 L494.19 351.45 L495.39 352.18 L496.58 352.93 L497.77 353.68 L498.97 354.44 L500.16 355.21 L501.35 355.99 L502.55 356.78 L503.74 357.58 L504.93 358.39 L506.13 359.2 L507.32 360.03 L508.52 360.86 L509.71 361.7 L510.9 362.55 L512.1 363.41 L513.29 364.28 L514.48 365.15 L515.68 366.03 L516.87 366.92 L518.06 367.82 L519.26 368.72 L520.45 369.64 L521.64 370.56 L522.84 371.48 L524.03 372.42 L525.23 373.36 L526.42 374.31 L527.61 375.26 L528.81 376.22 L530 377.19 L531.19 378.17 L532.39 379.15 L533.58 380.14 L534.77 381.13 L535.97 382.13 L537.16 383.14 L538.36 384.15 L539.55 385.17 L540.74 386.19 L541.94 387.22 L543.13 388.25 L544.32 389.29 L545.52 390.34 L546.71 391.39 L547.9 392.44 L549.1 393.5 L550.29 394.57 L551.48 395.64 L552.68 396.71 L553.87 397.79 L555.07 398.88 L556.26 399.98 L557.45 401.09 L558.65 402.21 L559.84 403.33 L561.03 404.47 L562.23 405.63 L563.42 406.79 L564.61 407.97 L565.81 409.17 L567 410.38 L568.2 411.61 L569.39 412.86 L570.58 414.12 L571.78 415.4 L572.97 416.71 L574.16 418.03 L575.36 419.38 L576.55 420.75 L577.74 422.14 L578.94 423.56 L580.13 424.99 L581.33 426.45 L582.52 427.93 L583.71 429.43 L584.91 430.96 L586.1 432.5 L587.29 434.07 L588.49 435.65 L589.68 437.26 L590.87 438.89 L592.07 440.54 L593.26 442.2 L594.45 443.89 L595.65 445.6 L596.84 447.33 L598.04 449.08 L599.23 450.85 L600.42 452.64 L601.62 454.45 L602.81 456.28 L604 458.12 L605.2 459.99 L606.39 461.87 L607.58 463.77 L608.78 465.7 L609.97 467.64 L611.17 469.59 L612.36 471.57 L613.55 473.56 L614.75 475.58 L615.94 477.61 L617.13 479.65 L618.33 481.72 L619.52 483.8 L620.71 485.9 L621.91 488.01 L623.1 490.15 L624.3 492.3 L625.49 494.46 L626.68 496.64 L627.88 498.84 L629.07 501.06 L630.26 503.28 L631.46 505.53 L632.65 507.79 L633.84 510.06 L635.04 512.34 L636.23 514.64 L637.42 516.94 L638.62 519.26 L639.81 521.59 L641.01 523.92 L642.2 526.27 L643.39 528.62 L644.59 530.98 L645.78 533.34 L646.97 535.72 L648.17 538.09 L649.36 540.47 L650.55 542.86 L651.75 545.25 L652.94 547.64 L654.14 550.03 L655.33 552.43 L656.52 554.82 L657.72 557.21 L658.91 559.61 L660.1 562 L661.3 564.39 L662.49 566.77 L663.68 569.16 L664.88 571.53 L666.07 573.91 L667.27 576.28 L668.46 578.64 L669.65 581 L670.85 583.36 L672.04 585.72 L673.23 588.1 L674.43 590.49 L675.62 592.91 L676.81 595.34 L678.01 597.8 L679.2 600.3 L680.39 602.84 L681.59 605.41 L682.78 608.03 L683.98 610.7 L685.17 613.43 L686.36 616.22 L687.56 619.07 L688.75 621.99" fill="none" stroke="#1c1a1b" stroke-width="3.4" stroke-linecap="round" stroke-dasharray="19.008 12.974"/>
<g stroke="#3a3a3a" stroke-width="0.9" fill="#1c1a1b">
<line x1="59.5" y1="660" x2="59.5" y2="816.5"/>
<path d="M59.5 635.6 L64.2 668 L54.8 668Z" stroke="none"/>
<line x1="185" y1="943.2" x2="375" y2="943.2" stroke-width="0.75"/>
<path d="M402.3 943 L370.8 938.05 L370.8 947.95Z" stroke="none"/>
</g>
<g stroke="#11a5ef" stroke-width="0.95" fill="#11a5ef">
<line x1="937.7" y1="660" x2="937.7" y2="816.5" stroke-width="0.8"/>
<path d="M937.8 635.6 L943.1 667.6 L932.7 667.6Z" stroke="none"/>
<line x1="923.6" y1="867.6" x2="944.5" y2="867.6" stroke-width="2.5"/>
</g>
<g font-family="Liberation Sans, sans-serif">
<path d="M749.5 534 L758.6 549.2 L740.4 549.2Z" fill="none" stroke="#11a5ef" stroke-width="1.4"/>
<path d="M657.6 610.3 L666 620 L674.4 610.3 M666 620 L666 627.6" fill="none" stroke="#11a5ef" stroke-width="1.7"/>
<text transform="translate(94.11 884.99) scale(0.9268 1)" font-size="32.59" fill="#2b2b2b"  stroke="#fff" stroke-width="0.7" vector-effect="non-scaling-stroke" stroke-linejoin="round">0</text>
<text transform="translate(61.4 797.25) scale(0.9103 1)" font-size="32.59" fill="#2b2b2b"  stroke="#fff" stroke-width="0.7" vector-effect="non-scaling-stroke" stroke-linejoin="round">100</text>
<text transform="translate(59.92 710.43) scale(0.9379 1)" font-size="32.59" fill="#2b2b2b"  stroke="#fff" stroke-width="0.7" vector-effect="non-scaling-stroke" stroke-linejoin="round">200</text>
<text transform="translate(60.4 623.73) scale(0.9288 1)" font-size="32.59" fill="#2b2b2b"  stroke="#fff" stroke-width="0.7" vector-effect="non-scaling-stroke" stroke-linejoin="round">300</text>
<text transform="translate(60.88 537.15) scale(0.9199 1)" font-size="32.59" fill="#2b2b2b"  stroke="#fff" stroke-width="0.7" vector-effect="non-scaling-stroke" stroke-linejoin="round">400</text>
<text transform="translate(60.4 450.69) scale(0.9288 1)" font-size="32.59" fill="#2b2b2b"  stroke="#fff" stroke-width="0.7" vector-effect="non-scaling-stroke" stroke-linejoin="round">500</text>
<text transform="translate(59.92 364.35) scale(0.9379 1)" font-size="32.59" fill="#2b2b2b"  stroke="#fff" stroke-width="0.7" vector-effect="non-scaling-stroke" stroke-linejoin="round">600</text>
<text transform="translate(59.92 278.13) scale(0.9379 1)" font-size="32.59" fill="#2b2b2b"  stroke="#fff" stroke-width="0.7" vector-effect="non-scaling-stroke" stroke-linejoin="round">700</text>
<text transform="translate(60.4 192.03) scale(0.9288 1)" font-size="32.59" fill="#2b2b2b"  stroke="#fff" stroke-width="0.7" vector-effect="non-scaling-stroke" stroke-linejoin="round">800</text>
<text transform="translate(46.92 146.45) scale(0.8858 1)" font-size="32.26" fill="#2b2b2b"  stroke="#fff" stroke-width="0.7" vector-effect="non-scaling-stroke" stroke-linejoin="round">Pa</text>
<text transform="translate(124.31 916.84) scale(0.9226 1)" font-size="32.73" fill="#2b2b2b"  stroke="#fff" stroke-width="0.7" vector-effect="non-scaling-stroke" stroke-linejoin="round">0</text>
<text transform="translate(190.87 916.84) scale(0.8677 1)" font-size="32.73" fill="#2b2b2b"  stroke="#fff" stroke-width="0.7" vector-effect="non-scaling-stroke" stroke-linejoin="round">1000</text>
<text transform="translate(280.21 916.84) scale(0.9380 1)" font-size="32.73" fill="#2b2b2b"  stroke="#fff" stroke-width="0.7" vector-effect="non-scaling-stroke" stroke-linejoin="round">2000</text>
<text transform="translate(372.19 916.84) scale(0.9397 1)" font-size="32.73" fill="#2b2b2b"  stroke="#fff" stroke-width="0.7" vector-effect="non-scaling-stroke" stroke-linejoin="round">3000</text>
<text transform="translate(467.17 916.84) scale(0.9330 1)" font-size="32.73" fill="#2b2b2b"  stroke="#fff" stroke-width="0.7" vector-effect="non-scaling-stroke" stroke-linejoin="round">4000</text>
<text transform="translate(559.7 916.84) scale(0.9313 1)" font-size="32.73" fill="#2b2b2b"  stroke="#fff" stroke-width="0.7" vector-effect="non-scaling-stroke" stroke-linejoin="round">5000</text>
<text transform="translate(651.6 916.84) scale(0.9423 1)" font-size="32.73" fill="#2b2b2b"  stroke="#fff" stroke-width="0.7" vector-effect="non-scaling-stroke" stroke-linejoin="round">6000</text>
<text transform="translate(744.65 916.84) scale(0.9125 1)" font-size="32.73" fill="#2b2b2b"  stroke="#fff" stroke-width="0.7" vector-effect="non-scaling-stroke" stroke-linejoin="round">7000</text>
<text transform="translate(806.33 948.35) scale(0.9544 1)" font-size="32.22" fill="#2b2b2b"  stroke="#fff" stroke-width="0.7" vector-effect="non-scaling-stroke" stroke-linejoin="round">m</text>
<text transform="translate(831.19 937.33) scale(1.1204 1)" font-size="17.32" fill="#2b2b2b"  stroke="#fff" stroke-width="0.4" vector-effect="non-scaling-stroke" stroke-linejoin="round">3</text>
<text transform="translate(841.15 948.83) scale(1.1945 1)" font-size="33.34" fill="#2b2b2b"  stroke="#fff" stroke-width="0.7" vector-effect="non-scaling-stroke" stroke-linejoin="round">/</text>
<text transform="translate(851.69 948.35) scale(0.9602 1)" font-size="32.61" fill="#2b2b2b"  stroke="#fff" stroke-width="0.7" vector-effect="non-scaling-stroke" stroke-linejoin="round">h</text>
<text transform="translate(132.31 947.81) scale(1.0060 1)" font-size="29.9" fill="#2b2b2b"  stroke="#fff" stroke-width="0.7" vector-effect="non-scaling-stroke" stroke-linejoin="round">q</text>
<text transform="translate(147.35 956.25) scale(0.9559 1)" font-size="24.76" fill="#2b2b2b"  stroke="#fff" stroke-width="0.5" vector-effect="non-scaling-stroke" stroke-linejoin="round">V</text>
<text transform="translate(882.9 795.64) scale(0.8163 1)" font-size="28.11" fill="#11a5ef"  stroke="#fff" stroke-width="0.45" vector-effect="non-scaling-stroke" stroke-linejoin="round">2.0</text>
<text transform="translate(883.62 708.64) scale(0.7974 1)" font-size="28.11" fill="#11a5ef"  stroke="#fff" stroke-width="0.45" vector-effect="non-scaling-stroke" stroke-linejoin="round">4.0</text>
<text transform="translate(882.9 621.64) scale(0.8163 1)" font-size="28.11" fill="#11a5ef"  stroke="#fff" stroke-width="0.45" vector-effect="non-scaling-stroke" stroke-linejoin="round">6.0</text>
<text transform="translate(883.27 534.64) scale(0.8067 1)" font-size="28.11" fill="#11a5ef"  stroke="#fff" stroke-width="0.45" vector-effect="non-scaling-stroke" stroke-linejoin="round">8.0</text>
<text transform="translate(883.39 881.78) scale(0.7671 1)" font-size="28.55" fill="#11a5ef"  stroke="#fff" stroke-width="0.45" vector-effect="non-scaling-stroke" stroke-linejoin="round">0</text>
<text transform="translate(929.17 556.62) scale(0.6978 1)" font-size="27.83" fill="#11a5ef"  stroke="#fff" stroke-width="0.45" vector-effect="non-scaling-stroke" stroke-linejoin="round">A</text>
<text transform="translate(445.67 121.9) scale(1.0243 1)" font-size="29.11" fill="#1c1a1b" stroke="#1c1a1b" stroke-width="0.75">DD 12/9 M955 3F 4P 2V +SCT</text>
<text transform="translate(586.78 175.61) scale(0.9280 1)" font-size="63.56" fill="#7b7b7b"  stroke="#fff" stroke-width="1.4" vector-effect="non-scaling-stroke" stroke-linejoin="round">400/400 V</text>
<text transform="translate(702.83 227.33) scale(0.9616 1)" font-size="62.09" fill="#7b7b7b"  stroke="#fff" stroke-width="1.4" vector-effect="non-scaling-stroke" stroke-linejoin="round">50 Hz</text>
<text transform="translate(452.77 246.5) scale(0.9136 1)" font-size="30.38" fill="#1c1a1b" stroke="#1c1a1b" stroke-width="0.7">[I5]</text>
<text transform="translate(682.25 549.54) scale(0.7944 1)" font-size="25.98" fill="#11a5ef" font-weight="bold"  stroke="#fff" stroke-width="0.3" vector-effect="non-scaling-stroke" stroke-linejoin="round">400V</text>
<text transform="translate(600.45 627.34) scale(0.7876 1)" font-size="26.42" fill="#11a5ef" font-weight="bold"  stroke="#fff" stroke-width="0.3" vector-effect="non-scaling-stroke" stroke-linejoin="round">400V</text>
<text transform="translate(69.88 38.23) scale(1.0014 1)" font-size="23.78" fill="#242424"  letter-spacing="1.294">Charakterystka</text>
<text transform="translate(258.25 38.23) scale(1.0439 1)" font-size="23.78" fill="#242424"  letter-spacing="1.294">przepływowa</text>
<text transform="translate(426.59 38.23) scale(1.0366 1)" font-size="23.78" fill="#242424"  letter-spacing="1.294">wentylatora</text>
<text transform="translate(576.69 38.23) scale(0.9224 1)" font-size="23.78" fill="#242424"  letter-spacing="1.294">DD</text>
<text transform="translate(620.04 38.23) scale(1.0521 1)" font-size="23.78" fill="#242424"  letter-spacing="1.294">12/9</text>
<text transform="translate(683.59 38.23) scale(1.0835 1)" font-size="23.78" fill="#242424"  letter-spacing="1.294">M955</text>
<text transform="translate(762.85 38.23) scale(0.8756 1)" font-size="23.78" fill="#242424"  letter-spacing="1.294">3F</text>
<text transform="translate(798.37 38.23) scale(0.8963 1)" font-size="23.78" fill="#242424"  letter-spacing="1.294">4P</text>
<text transform="translate(835.34 38.23) scale(0.9496 1)" font-size="23.78" fill="#242424"  letter-spacing="1.294">2V</text>
<text transform="translate(875.04 38.23) scale(0.8620 1)" font-size="23.78" fill="#242424"  letter-spacing="1.294">+SCT</text>
<text transform="translate(85.64 997.8) scale(0.9512 1)" font-size="15.85" fill="#3c3c3c"  stroke="#fff" stroke-width="0.3" vector-effect="non-scaling-stroke" stroke-linejoin="round" letter-spacing="3.513">Charakterystyka</text>
<text transform="translate(253.15 997.8) scale(1.0005 1)" font-size="15.85" fill="#3c3c3c"  stroke="#fff" stroke-width="0.3" vector-effect="non-scaling-stroke" stroke-linejoin="round" letter-spacing="3.513">dla</text>
<text transform="translate(292.09 997.8) scale(0.9679 1)" font-size="15.85" fill="#3c3c3c"  stroke="#fff" stroke-width="0.3" vector-effect="non-scaling-stroke" stroke-linejoin="round" letter-spacing="3.513">warunków</text>
<text transform="translate(395.88 997.8) scale(0.9793 1)" font-size="15.85" fill="#3c3c3c"  stroke="#fff" stroke-width="0.3" vector-effect="non-scaling-stroke" stroke-linejoin="round" letter-spacing="3.513">pracy:</text>
<text transform="translate(464.51 997.8) scale(0.9776 1)" font-size="15.85" fill="#3c3c3c"  stroke="#fff" stroke-width="0.3" vector-effect="non-scaling-stroke" stroke-linejoin="round" letter-spacing="3.513">strona</text>
<text transform="translate(537.55 997.8) scale(0.9598 1)" font-size="15.85" fill="#3c3c3c"  stroke="#fff" stroke-width="0.3" vector-effect="non-scaling-stroke" stroke-linejoin="round" letter-spacing="3.513">tłoczna;</text>
<text transform="translate(622.89 997.8) scale(0.9298 1)" font-size="15.85" fill="#3c3c3c"  stroke="#fff" stroke-width="0.3" vector-effect="non-scaling-stroke" stroke-linejoin="round" letter-spacing="3.513">gęstość</text>
<text transform="translate(703.65 997.8) scale(1.0051 1)" font-size="15.85" fill="#3c3c3c"  stroke="#fff" stroke-width="0.3" vector-effect="non-scaling-stroke" stroke-linejoin="round" letter-spacing="3.513">medium</text>
<text transform="translate(788.73 997.8) scale(0.9260 1)" font-size="15.85" fill="#3c3c3c"  stroke="#fff" stroke-width="0.3" vector-effect="non-scaling-stroke" stroke-linejoin="round" letter-spacing="3.513">1,2</text>
<text transform="translate(826.03 997.8) scale(1.0249 1)" font-size="15.85" fill="#3c3c3c"  stroke="#fff" stroke-width="0.3" vector-effect="non-scaling-stroke" stroke-linejoin="round" letter-spacing="3.513">[kg/m3]</text>
<g transform="rotate(-90)">
<text transform="translate(-874.82 66.65) scale(1.0704 1)" font-size="32.37" fill="#2b2b2b"  stroke="#fff" stroke-width="0.7" vector-effect="non-scaling-stroke" stroke-linejoin="round">p</text>
<text transform="translate(-857.47 73.6) scale(1.1767 1)" font-size="22.69" fill="#2b2b2b"  stroke="#fff" stroke-width="0.5" vector-effect="non-scaling-stroke" stroke-linejoin="round">s</text>
<text transform="translate(-845.63 73.75) scale(0.8259 1)" font-size="24.46" fill="#2b2b2b"  stroke="#fff" stroke-width="0.5" vector-effect="non-scaling-stroke" stroke-linejoin="round">F</text>
</g>
</g>
</svg>
</body></html>
